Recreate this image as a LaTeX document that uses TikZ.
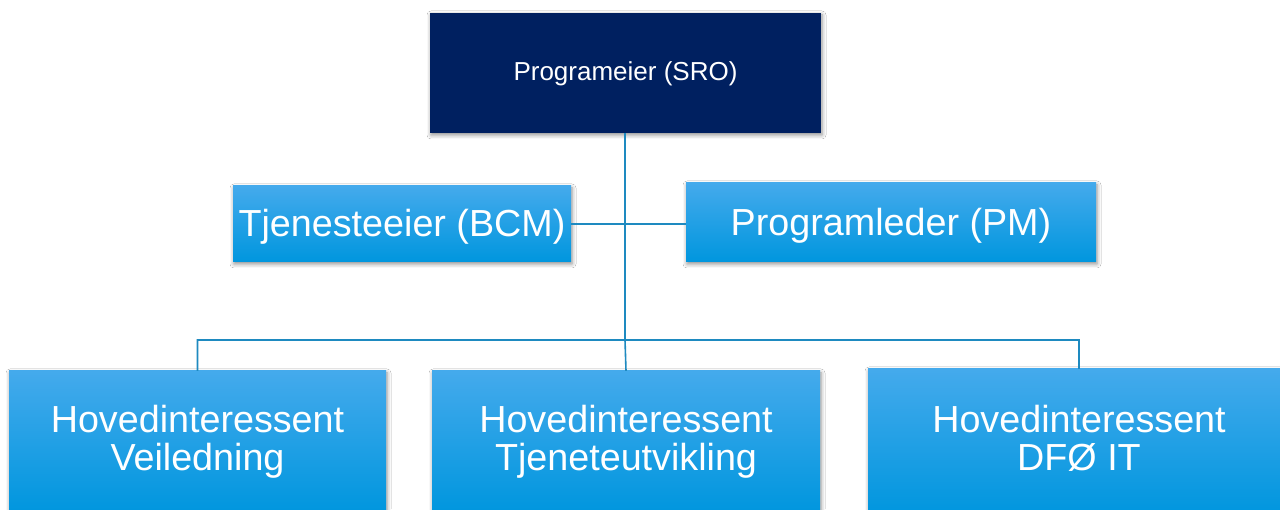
\documentclass[tikz,border=0pt]{standalone}
\usepackage{fontspec}
\setmainfont{Liberation Sans}
\usetikzlibrary{shadows.blur}
\definecolor{navy}{RGB}{0,32,96}
\definecolor{btop}{RGB}{68,170,236}
\definecolor{bmid}{RGB}{10,163,234}
\definecolor{bbot}{RGB}{0,150,222}
\definecolor{linec}{RGB}{30,138,192}
\newcommand\lstr{\vphantom{(}}
\begin{document}
\begin{tikzpicture}[x=1pt,y=1pt,
  shadowed/.style={blur shadow={shadow xshift=1pt,shadow yshift=-2pt,shadow blur radius=4pt,shadow opacity=45}},
  topbox/.style={shadowed,fill=navy,text=white,minimum width=391pt,minimum height=120pt,inner sep=0pt,text height=19pt,text depth=3pt,font=\fontsize{26}{30}\selectfont},
  bluebox/.style={shadowed,shading=axis,top color=btop,middle color=bmid,bottom color=bbot,text=white,inner sep=0pt,align=center,font=\fontsize{37.7}{37.4}\selectfont},
  onerow/.style={bluebox,text height=27.5pt,text depth=2pt},
  conn/.style={draw=linec,line width=1.6pt}]
\useasboundingbox (0,0) rectangle (1280,509);
\clip (0,0) rectangle (1280,509);
\fill[white] (0,0) rectangle (1280,509);
% top
\node[topbox] (sro) at (625.5,436) {Programeier (SRO)};
% middle row
\node[onerow,minimum width=338pt,minimum height=76pt] (bcm) at (402,285) {Tjenesteeier (BCM)};
\node[onerow,minimum width=410pt,minimum height=79pt] (pm) at (891,286.5) {Programleder (PM)};
% bottom row
\node[bluebox,minimum width=377pt,minimum height=141.2pt] (vei) at (197.5,67.4) {\lstr Hovedinteressent\\\lstr Veiledning};
\node[bluebox,minimum width=388pt,minimum height=141.2pt] (tje) at (626,67.4) {\lstr Hovedinteressent\\\lstr Tjeneteutvikling};
\node[bluebox,minimum width=422pt,minimum height=145.2pt] (dfo) at (1079,67.4) {\lstr Hovedinteressent\\\lstr DF\smash{Ø} IT};
% connectors
\coordinate (hub) at (625,169);
\draw[conn] (sro.south -| hub) -- (hub);
\draw[conn] (bcm.east) -- (bcm.east -| pm.west);
\draw[conn] (vei.north) -- (vei.north |- hub) -- (hub) -- (tje.north);
\draw[conn] (hub) -- (dfo.north |- hub) -- (dfo.north);
\end{tikzpicture}
\end{document}
